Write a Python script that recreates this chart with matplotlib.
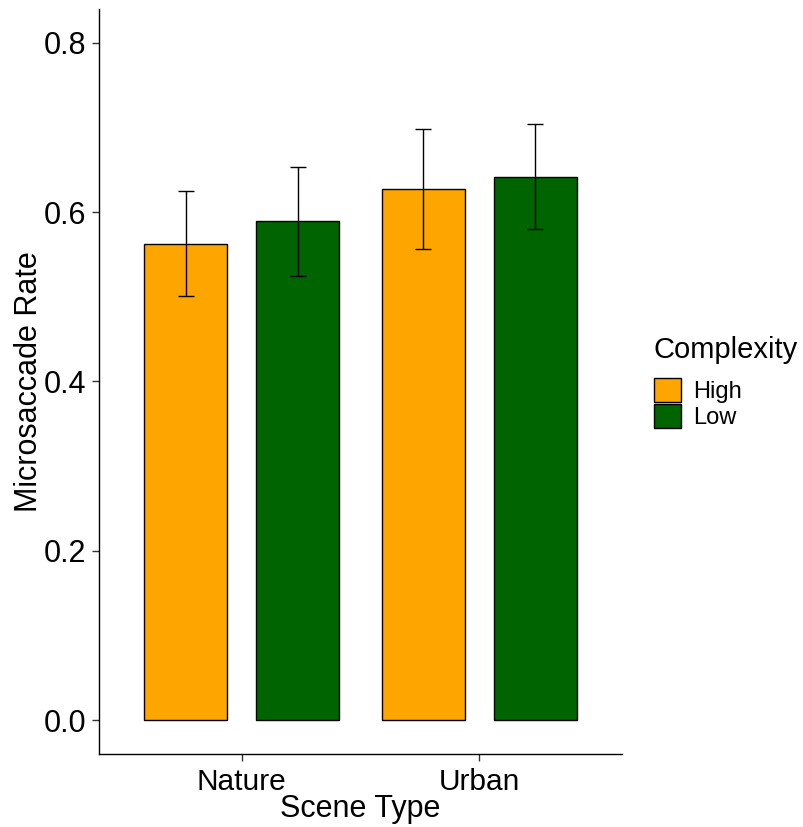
import numpy as np
import matplotlib
matplotlib.use("Agg")
import matplotlib.pyplot as plt
from matplotlib.patches import Patch

plt.rcParams['font.family'] = ['Liberation Sans', 'DejaVu Sans']

scenes = ['Nature', 'Urban']
levels = ['High', 'Low']
colors = {'High': '#FFA500', 'Low': '#006400'}

# mean microsaccade rate and standard error per scene / complexity
rate = {'High': [0.563, 0.627], 'Low': [0.589, 0.642]}
err = {'High': [0.062, 0.071], 'Low': [0.064, 0.062]}

fig = plt.figure(figsize=(8.04, 8.27), dpi=100)
ax = fig.add_axes([99/804, 73/827, 523/804, 745/827])

x = np.arange(1, len(scenes) + 1)
offsets = {'High': -0.235, 'Low': 0.235}
barw = 0.35
for lev in levels:
    xs = x + offsets[lev]
    ax.bar(xs, rate[lev], width=barw, color=colors[lev], edgecolor='black', linewidth=1.0, zorder=2)
    ax.errorbar(xs, rate[lev], yerr=err[lev], fmt='none', ecolor='black',
                elinewidth=1.0, capsize=6, capthick=1.0, zorder=3)

ax.set_xlim(0.4, 2.6)
ax.set_ylim(-0.04, 0.84)
ax.set_xticks(x)
ax.set_xticklabels(scenes)
ax.set_yticks([0.0, 0.2, 0.4, 0.6, 0.8])
ax.set_yticklabels(['0.0', '0.2', '0.4', '0.6', '0.8'])
ax.tick_params(axis='both', labelsize=22, length=5, width=1, color='#333333', labelcolor='black', pad=4)
ax.tick_params(axis='x', labelsize=21.5, pad=5)

for side in ['top', 'right']:
    ax.spines[side].set_visible(False)
for side in ['left', 'bottom']:
    ax.spines[side].set_linewidth(1.0)
    ax.spines[side].set_color('black')

ax.set_xlabel('Scene Type', fontsize=22, labelpad=-1)
ax.set_ylabel('Microsaccade Rate', fontsize=22, labelpad=0)

handles = [Patch(facecolor=colors[l], edgecolor='black', linewidth=1.0) for l in levels]
leg = fig.legend(handles, levels, title='Complexity', loc='upper left',
                 bbox_to_anchor=(654/804, 1 - 336/827), frameon=False,
                 fontsize=17, title_fontsize=21, handlelength=1.14, handleheight=1.19,
                 labelspacing=0.04, handletextpad=0.5, borderpad=0, borderaxespad=0)
leg._legend_box.align = 'left'
leg._legend_box.sep = 10

fig.savefig('out.png', dpi=100)
